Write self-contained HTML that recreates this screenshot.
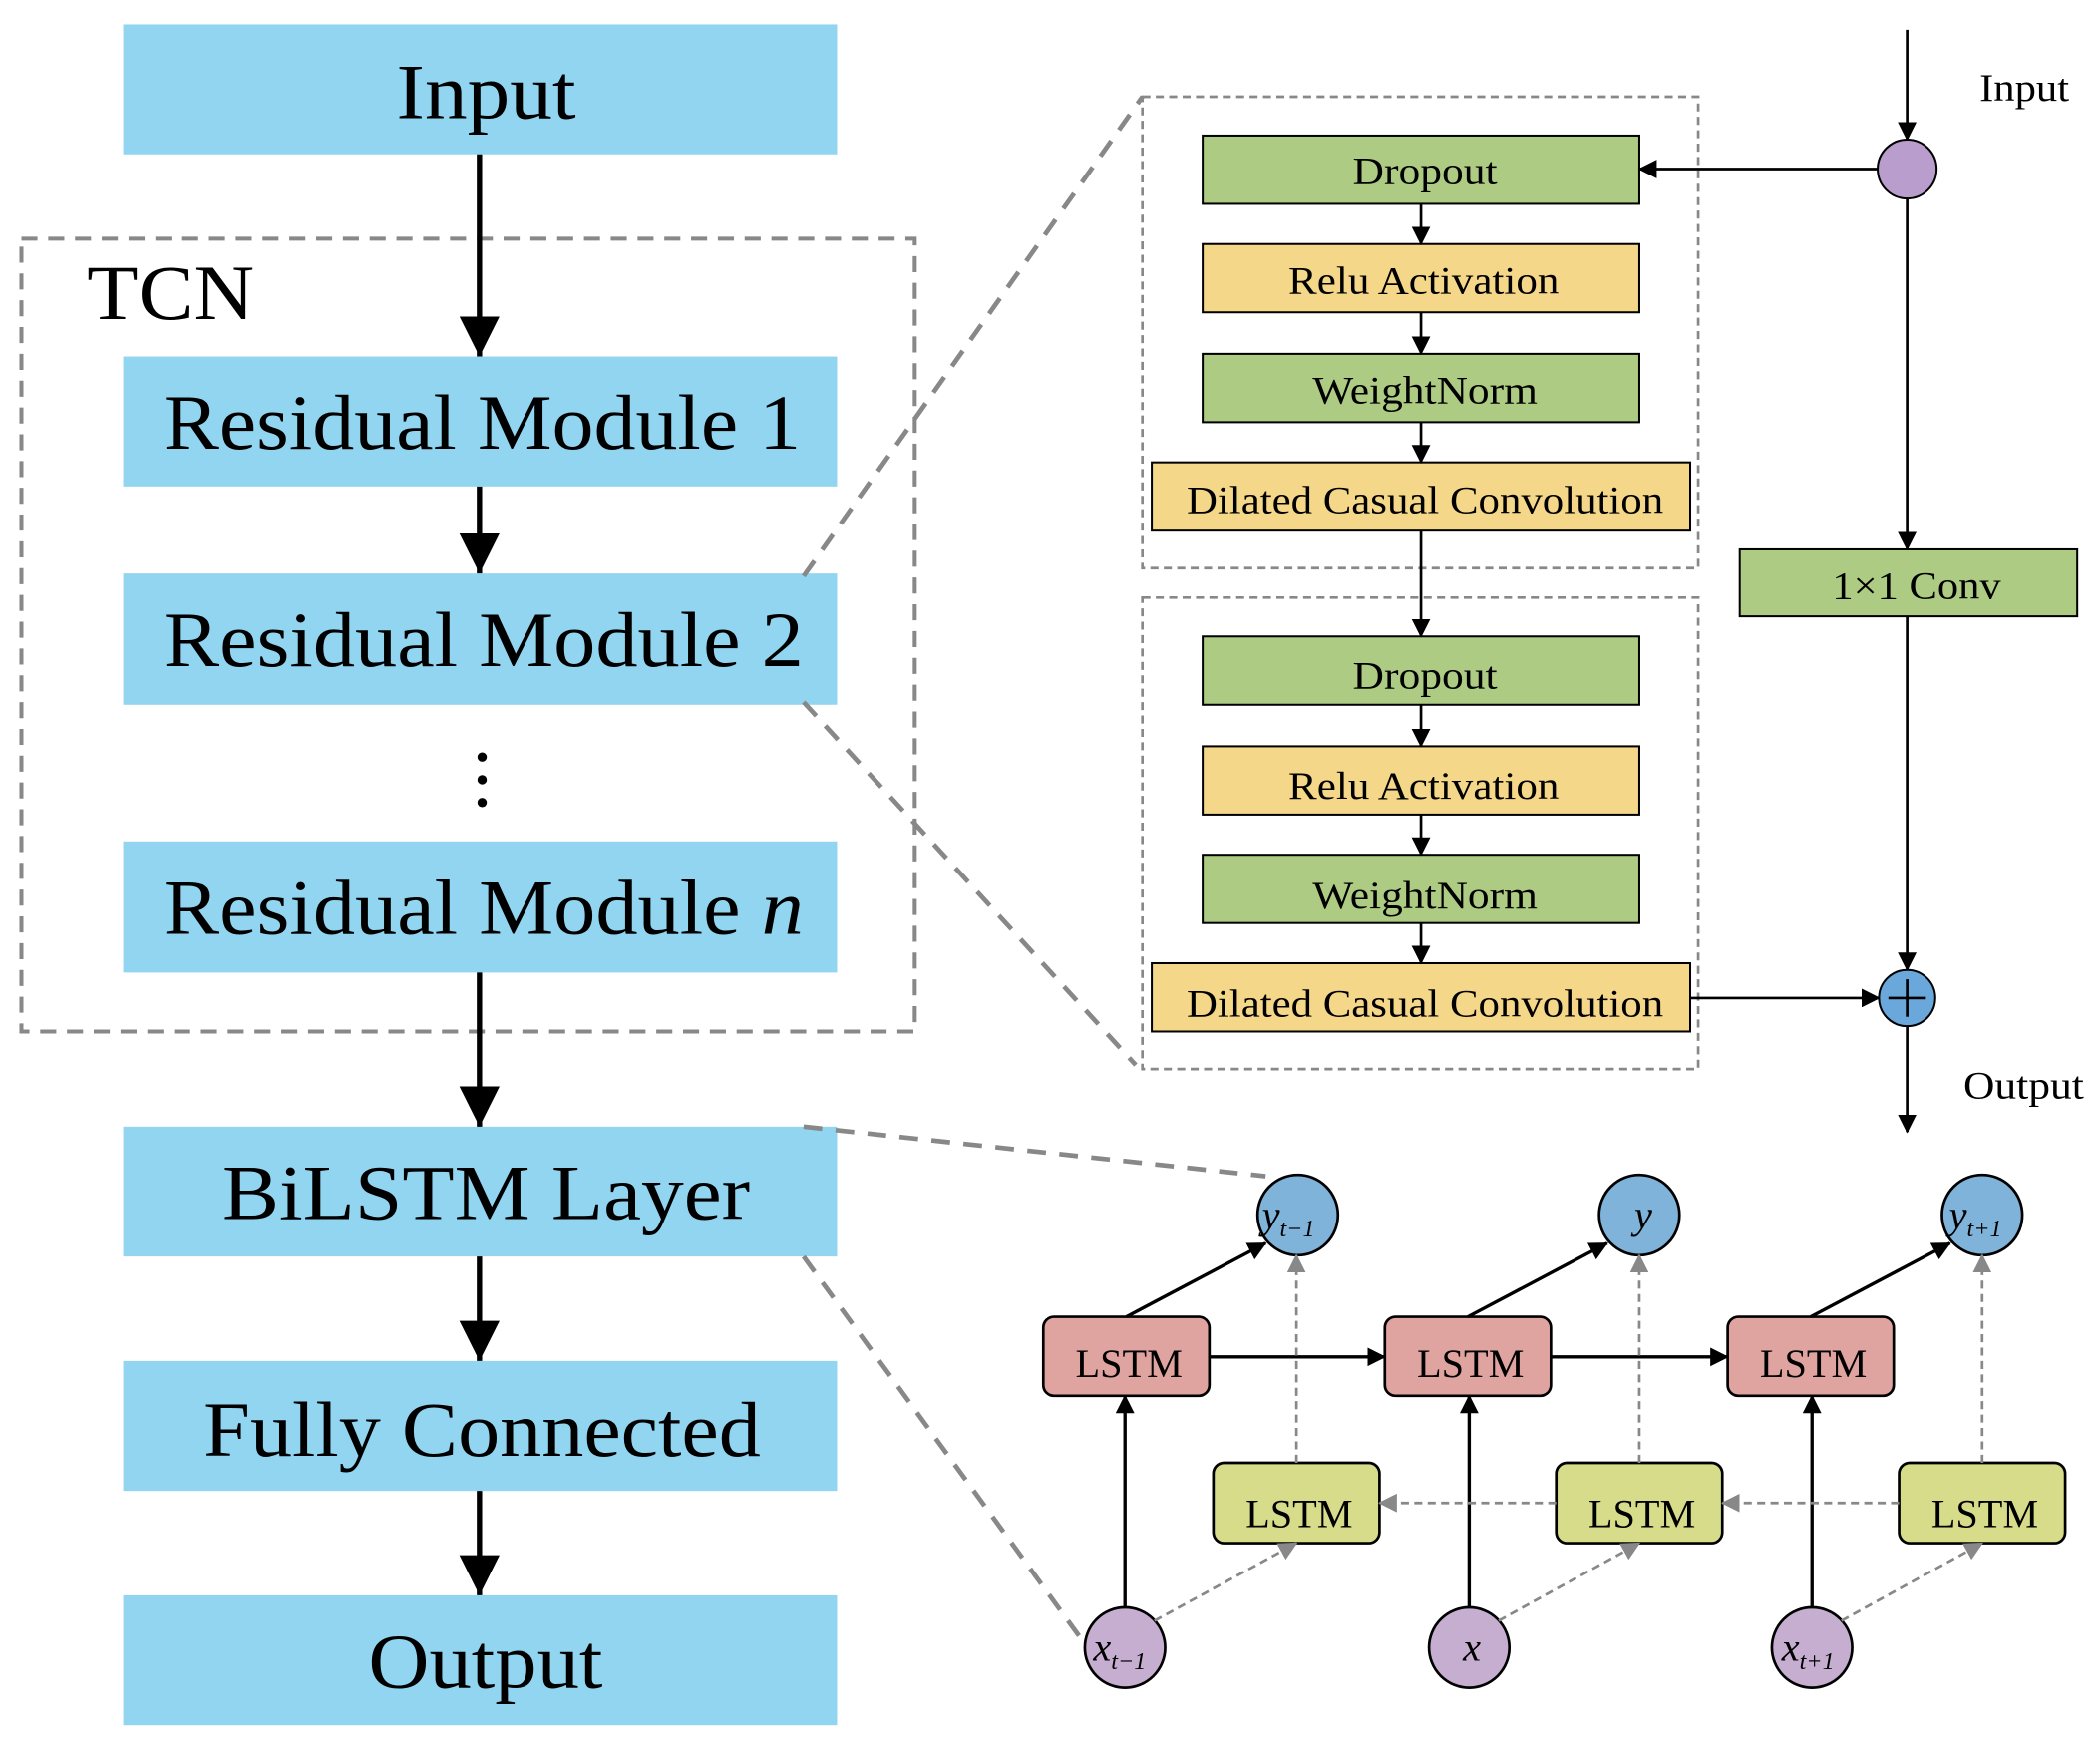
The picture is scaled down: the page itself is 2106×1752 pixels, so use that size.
<!DOCTYPE html>
<html><head><meta charset="utf-8"><style>html,body{margin:0;padding:0;background:#fff}svg{display:block}</style></head><body>
<svg width="2106" height="1752" viewBox="0 0 1568 1304" xmlns="http://www.w3.org/2000/svg" font-family="Liberation Serif, serif">
<defs>
<marker id="abig" markerWidth="30" markerHeight="30" refX="30" refY="15" orient="auto" markerUnits="userSpaceOnUse"><path d="M0,0 L30,15 L0,30 z" fill="#000"/></marker>
<marker id="ag" markerWidth="14" markerHeight="14" refX="13" refY="7" orient="auto" markerUnits="userSpaceOnUse"><path d="M0,0 L14,7 L0,14 z" fill="#888"/></marker>
<marker id="ak" markerWidth="14" markerHeight="14" refX="13" refY="7" orient="auto" markerUnits="userSpaceOnUse"><path d="M0,0 L14,7 L0,14 z" fill="#000"/></marker>
</defs>
<g fill="#92d5f1">
<rect x="92" y="18" width="533" height="97"/>
<rect x="92" y="266" width="533" height="97"/>
<rect x="92" y="428" width="533" height="98"/>
<rect x="92" y="628" width="533" height="98"/>
<rect x="92" y="841" width="533" height="97"/>
<rect x="92" y="1016" width="533" height="97"/>
<rect x="92" y="1191" width="533" height="97"/>
</g>
<rect x="16" y="178" width="667" height="592" fill="none" stroke="#888" stroke-width="3" stroke-dasharray="12,8"/>
<g font-size="58" fill="#000">
<text x="296" y="88" textLength="134" lengthAdjust="spacingAndGlyphs">Input</text>
<text x="122" y="335" textLength="476" lengthAdjust="spacingAndGlyphs">Residual Module 1</text>
<text x="122" y="497" textLength="478" lengthAdjust="spacingAndGlyphs">Residual Module 2</text>
<text x="122" y="697" textLength="478" lengthAdjust="spacingAndGlyphs">Residual Module <tspan font-style="italic">n</tspan></text>
<text x="166" y="910" textLength="394" lengthAdjust="spacingAndGlyphs">BiLSTM Layer</text>
<text x="152" y="1087" textLength="416" lengthAdjust="spacingAndGlyphs">Fully Connected</text>
<text x="275" y="1260" textLength="175" lengthAdjust="spacingAndGlyphs">Output</text>
<text x="65" y="238" textLength="125" lengthAdjust="spacingAndGlyphs">TCN</text>
</g>
<g stroke="#000" stroke-width="4" marker-end="url(#abig)">
<line x1="358" y1="115" x2="358" y2="266"/>
<line x1="358" y1="363" x2="358" y2="428"/>
<line x1="358" y1="726" x2="358" y2="841"/>
<line x1="358" y1="938" x2="358" y2="1016"/>
<line x1="358" y1="1113" x2="358" y2="1191"/>
</g>
<g fill="#000"><circle cx="360" cy="565" r="3.5"/><circle cx="360" cy="582" r="3.5"/><circle cx="360" cy="599" r="3.5"/></g>
<g stroke="#888" stroke-width="3.5" stroke-dasharray="14,10" fill="none">
<line x1="600" y1="430" x2="853" y2="72"/>
<line x1="600" y1="524" x2="848" y2="795"/>
<line x1="600" y1="841" x2="945" y2="878"/>
<line x1="600" y1="938" x2="812" y2="1230"/>
</g>
<g fill="none" stroke="#888" stroke-width="2" stroke-dasharray="6,4">
<rect x="853" y="72" width="415" height="352"/>
<rect x="853" y="446" width="415" height="352"/>
</g>
<g stroke="#000" stroke-width="1.5">
<rect x="898" y="101" width="326" height="51" fill="#aecb83"/>
<rect x="898" y="182" width="326" height="51" fill="#f5d78a"/>
<rect x="898" y="264" width="326" height="51" fill="#aecb83"/>
<rect x="860" y="345" width="402" height="51" fill="#f5d78a"/>
<rect x="898" y="475" width="326" height="51" fill="#aecb83"/>
<rect x="898" y="557" width="326" height="51" fill="#f5d78a"/>
<rect x="898" y="638" width="326" height="51" fill="#aecb83"/>
<rect x="860" y="719" width="402" height="51" fill="#f5d78a"/>
<rect x="1299" y="410" width="252" height="50" fill="#aecb83"/>
</g>
<g font-size="29">
<text x="1010" y="137" textLength="108" lengthAdjust="spacingAndGlyphs">Dropout</text>
<text x="962" y="219" textLength="202" lengthAdjust="spacingAndGlyphs">Relu Activation</text>
<text x="980" y="301" textLength="168" lengthAdjust="spacingAndGlyphs">WeightNorm</text>
<text x="886" y="383" textLength="356" lengthAdjust="spacingAndGlyphs">Dilated Casual Convolution</text>
<text x="1010" y="514" textLength="108" lengthAdjust="spacingAndGlyphs">Dropout</text>
<text x="962" y="596" textLength="202" lengthAdjust="spacingAndGlyphs">Relu Activation</text>
<text x="980" y="678" textLength="168" lengthAdjust="spacingAndGlyphs">WeightNorm</text>
<text x="886" y="759" textLength="356" lengthAdjust="spacingAndGlyphs">Dilated Casual Convolution</text>
<text x="1368" y="447" textLength="126" lengthAdjust="spacingAndGlyphs">1×1 Conv</text>
</g>
<text x="1478" y="75" font-size="29" textLength="67" lengthAdjust="spacingAndGlyphs">Input</text>
<text x="1466" y="820" font-size="29" textLength="90" lengthAdjust="spacingAndGlyphs">Output</text>
<g stroke="#000" stroke-width="2" marker-end="url(#ak)">
<line x1="1061" y1="152" x2="1061" y2="182"/>
<line x1="1061" y1="233" x2="1061" y2="264"/>
<line x1="1061" y1="315" x2="1061" y2="345"/>
<line x1="1061" y1="396" x2="1061" y2="475"/>
<line x1="1061" y1="526" x2="1061" y2="557"/>
<line x1="1061" y1="608" x2="1061" y2="638"/>
<line x1="1061" y1="689" x2="1061" y2="719"/>
<line x1="1424" y1="22" x2="1424" y2="104"/>
<line x1="1402" y1="126" x2="1224" y2="126"/>
<line x1="1424" y1="148" x2="1424" y2="410"/>
<line x1="1424" y1="460" x2="1424" y2="724"/>
<line x1="1262" y1="745" x2="1403" y2="745"/>
<line x1="1424" y1="766" x2="1424" y2="845"/>
</g>
<circle cx="1424" cy="126" r="22" fill="#b99dcc" stroke="#000" stroke-width="1.5"/>
<circle cx="1424" cy="745" r="21" fill="#6aa8dc" stroke="#000" stroke-width="1.5"/>
<g stroke="#000" stroke-width="2"><line x1="1410" y1="745" x2="1438" y2="745"/><line x1="1424" y1="731" x2="1424" y2="759"/></g>
<g stroke="#000" stroke-width="2">
<rect x="779" y="983" width="124" height="59" rx="8" fill="#e0a4a0"/>
<rect x="1034" y="983" width="124" height="59" rx="8" fill="#e0a4a0"/>
<rect x="1290" y="983" width="124" height="59" rx="8" fill="#e0a4a0"/>
<rect x="906" y="1092" width="124" height="60" rx="8" fill="#d6dc8a"/>
<rect x="1162" y="1092" width="124" height="60" rx="8" fill="#d6dc8a"/>
<rect x="1418" y="1092" width="124" height="60" rx="8" fill="#d6dc8a"/>
<circle cx="969" cy="907" r="30" fill="#7fb3d9"/>
<circle cx="1224" cy="907" r="30" fill="#7fb3d9"/>
<circle cx="1480" cy="907" r="30" fill="#7fb3d9"/>
<circle cx="840" cy="1230" r="30" fill="#c6aed0"/>
<circle cx="1097" cy="1230" r="30" fill="#c6aed0"/>
<circle cx="1353" cy="1230" r="30" fill="#c6aed0"/>
</g>
<g font-size="30" text-anchor="middle">
<text x="843" y="1028">LSTM</text><text x="1098" y="1028">LSTM</text><text x="1354" y="1028">LSTM</text>
<text x="970" y="1140">LSTM</text><text x="1226" y="1140">LSTM</text><text x="1482" y="1140">LSTM</text>
</g>
<g font-size="30" font-style="italic" text-anchor="middle">
<text x="962" y="917">y<tspan font-size="18" dy="6">t−1</tspan></text>
<text x="1227" y="917">y</text>
<text x="1475" y="917">y<tspan font-size="18" dy="6">t+1</tspan></text>
<text x="836" y="1240">x<tspan font-size="18" dy="6">t−1</tspan></text>
<text x="1099" y="1240">x</text>
<text x="1350" y="1240">x<tspan font-size="18" dy="6">t+1</tspan></text>
</g>
<g stroke="#000" stroke-width="2.5" marker-end="url(#ak)">
<line x1="841" y1="983" x2="945" y2="928"/>
<line x1="1096" y1="983" x2="1200" y2="928"/>
<line x1="1352" y1="983" x2="1456" y2="928"/>
<line x1="840" y1="1200" x2="840" y2="1042"/>
<line x1="1097" y1="1200" x2="1097" y2="1042"/>
<line x1="1353" y1="1200" x2="1353" y2="1042"/>
<line x1="903" y1="1013" x2="1034" y2="1013"/>
<line x1="1158" y1="1013" x2="1290" y2="1013"/>
</g>
<g stroke="#888" stroke-width="2" stroke-dasharray="6,4" marker-end="url(#ag)">
<line x1="1162" y1="1122" x2="1030" y2="1122"/>
<line x1="1418" y1="1122" x2="1286" y2="1122"/>
<line x1="862" y1="1210" x2="968" y2="1152"/>
<line x1="1119" y1="1210" x2="1224" y2="1152"/>
<line x1="1375" y1="1210" x2="1480" y2="1152"/>
<line x1="968" y1="1092" x2="968" y2="937"/>
<line x1="1224" y1="1092" x2="1224" y2="937"/>
<line x1="1480" y1="1092" x2="1480" y2="937"/>
</g>
</svg>
</body></html>
